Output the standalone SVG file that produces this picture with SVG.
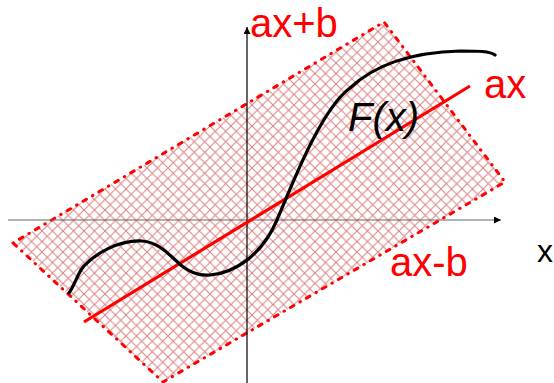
<svg xmlns="http://www.w3.org/2000/svg" width="554" height="383" viewBox="0 0 554 383">
<style>
.lbl{font-family:"Liberation Sans",Arial,sans-serif;font-size:40px;}
.red{fill:#ff0000;}
.blk{fill:#000;}
.border{fill:none;stroke:#ff0000;stroke-width:3;stroke-linecap:round;stroke-dasharray:0.5 7 4 7;}
</style>
<defs>
<pattern id="hatch" patternUnits="userSpaceOnUse" width="10.5" height="10.5">
<path d="M0,0 L10.5,10.5 M0,10.5 L10.5,0" stroke="#d98080" stroke-width="1" fill="none"/>
</pattern>
<marker id="arr" viewBox="0 0 10 10" refX="10" refY="5" markerWidth="10" markerHeight="7" markerUnits="userSpaceOnUse" orient="auto">
<path d="M0,0 L10,5 L0,10 Z" fill="#000"/>
</marker>
</defs>
<g id="band">
<polygon points="13,243 384,22 505,182 163,382" fill="url(#hatch)"/>
<polygon points="13,243 384,22 505,182 163,382" class="border"/>
</g>
<g id="axes">
<line x1="8" y1="220" x2="501" y2="220" stroke="#666" stroke-width="1.2" marker-end="url(#arr)"/>
<line x1="247" y1="383" x2="247" y2="27" stroke="#000" stroke-width="1.2" marker-end="url(#arr)"/>
</g>
<g id="line-ax">
<line x1="84" y1="322" x2="470" y2="86" stroke="#ff0000" stroke-width="3.2"/>
</g>
<g id="curve-F">
<path d="M69,293 C75,285 78,272 84,266 C95,254 118,240 142,241 C160,242 172,258 182,266 C192,274 200,276 210,275 C235,273 262,255 277,220 C290,190 320,110 350,88 C380,60 420,52 460,51 C478,51 490,51 495,55" fill="none" stroke="#000" stroke-width="3.2" stroke-linecap="round"/>
</g>
<g id="labels">
<text class="lbl red" x="250" y="37">ax+b</text>
<text class="lbl red" x="484" y="98">ax</text>
<text class="lbl red" x="390" y="276">ax-b</text>
<text class="lbl blk" x="348" y="131" font-style="italic">F(x)</text>
<text class="lbl blk" x="537" y="262" style="font-size:32px">x</text>
</g>
</svg>
